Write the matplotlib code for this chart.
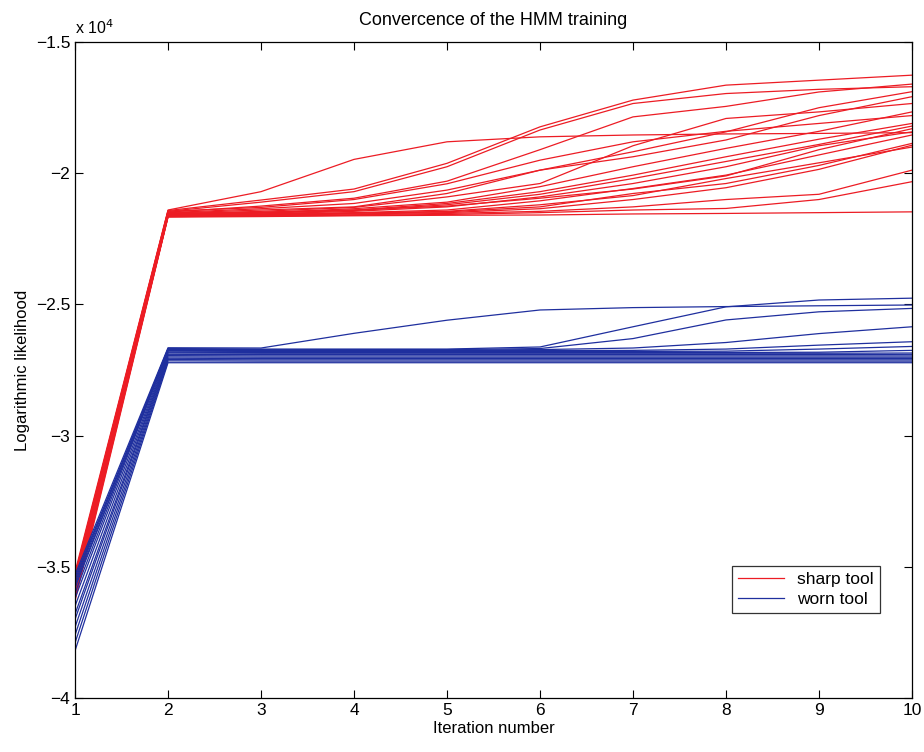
#!/usr/bin/env python3
# -*- coding: utf-8 -*-
"""HMM training convergence: log-likelihood per iteration, sharp vs worn tool."""
import matplotlib

matplotlib.use("Agg")
import matplotlib.pyplot as plt
from matplotlib.ticker import FuncFormatter

plt.rcParams.update({"font.family": ["Liberation Sans", "DejaVu Sans"], "font.size": 11})

ITER = [1, 2, 3, 4, 5, 6, 7, 8, 9, 10]

# log-likelihood curves, one row per training run
SHARP = [
    [-35200, -21400, -20700, -19470, -18800, -18610, -18540, -18500, -18480, -18450],
    [-35300, -21420, -21020, -20600, -19620, -18230, -17210, -16640, -16450, -16260],
    [-35400, -21450, -21100, -20700, -19750, -18350, -17340, -16960, -16800, -16700],
    [-35500, -21480, -21250, -20950, -20300, -19100, -17850, -17450, -16900, -16600],
    [-35500, -21500, -21350, -21150, -20640, -19880, -19180, -18420, -17500, -16890],
    [-35600, -21520, -21400, -21280, -20770, -19880, -19370, -18730, -17800, -17080],
    [-35700, -21550, -21450, -21300, -20900, -20390, -18950, -17910, -17660, -17340],
    [-35700, -21550, -21500, -21350, -21100, -20510, -19750, -19050, -18400, -17660],
    [-35800, -21580, -21500, -21400, -21150, -20700, -20070, -19370, -18700, -18100],
    [-35800, -21600, -21550, -21450, -21280, -20900, -20390, -19750, -18950, -18420],
    [-35900, -21600, -21550, -21500, -21400, -21050, -20580, -20070, -19300, -18540],
    [-36000, -21620, -21580, -21520, -21470, -21280, -20770, -20390, -19700, -18860],
    [-36000, -21620, -21600, -21550, -21500, -21350, -21000, -20550, -19850, -18930],
    [-36100, -21650, -21620, -21580, -21530, -21450, -21280, -21000, -20800, -19880],
    [-36200, -21650, -21630, -21600, -21570, -21500, -21400, -21340, -21000, -20320],
    [-36300, -21670, -21650, -21620, -21600, -21590, -21550, -21530, -21500, -21470],
    [-35300, -21450, -21300, -21000, -20400, -19500, -18800, -18400, -18100, -17800],
    [-35900, -21580, -21520, -21420, -21200, -20800, -20200, -19550, -18900, -18200],
    [-36100, -21630, -21600, -21520, -21450, -21200, -20850, -20200, -19600, -19000],
    [-35600, -21520, -21480, -21400, -21250, -20950, -20600, -20100, -19100, -18300],
]

WORN = [
    [-35300, -26650, -26660, -26100, -25600, -25210, -25120, -25080, -25050, -25020],
    [-35500, -26680, -26700, -26700, -26700, -26620, -25850, -25090, -24830, -24760],
    [-35600, -26700, -26720, -26720, -26720, -26680, -26300, -25590, -25280, -25150],
    [-35800, -26720, -26740, -26740, -26740, -26720, -26660, -26450, -26110, -25850],
    [-36000, -26750, -26760, -26760, -26760, -26760, -26750, -26700, -26550, -26420],
    [-35400, -26780, -26790, -26790, -26790, -26790, -26790, -26780, -26700, -26600],
    [-35700, -26820, -26830, -26830, -26830, -26830, -26830, -26830, -26820, -26750],
    [-36200, -26850, -26860, -26860, -26860, -26860, -26860, -26860, -26860, -26850],
    [-36500, -26900, -26910, -26910, -26910, -26910, -26910, -26910, -26910, -26900],
    [-36800, -26950, -26960, -26960, -26960, -26960, -26960, -26960, -26960, -26960],
    [-37000, -27000, -27010, -27010, -27010, -27010, -27010, -27010, -27010, -27010],
    [-37300, -27050, -27060, -27060, -27060, -27060, -27060, -27060, -27060, -27060],
    [-37600, -27100, -27110, -27110, -27110, -27110, -27110, -27110, -27110, -27110],
    [-37900, -27150, -27160, -27160, -27160, -27160, -27160, -27160, -27160, -27160],
    [-38200, -27220, -27220, -27220, -27220, -27220, -27220, -27220, -27220, -27220],
]

RED = "#ec1c24"
BLUE = "#1f2f9e"


def ylab(v, _):
    return ("%g" % (v / 1e4)).replace("-", "\u2212")


def main():
    fig = plt.figure(figsize=(9.24, 7.52), dpi=100)
    ax = fig.add_axes([0.0812, 0.0718, 0.9058, 0.8722])

    for k, row in enumerate(SHARP):
        ax.plot(ITER, row, color=RED, lw=0.9, label="sharp tool" if k == 0 else None)
    for k, row in enumerate(WORN):
        ax.plot(ITER, row, color=BLUE, lw=0.9, label="worn tool" if k == 0 else None)

    ax.set_xlim(1, 10)
    ax.set_ylim(-40000, -15000)
    ax.set_xticks(ITER)
    ax.set_yticks([-40000, -35000, -30000, -25000, -20000, -15000])
    ax.yaxis.set_major_formatter(FuncFormatter(ylab))
    ax.tick_params(direction="in", top=True, right=True, length=6, labelsize=12.5)
    for s in ax.spines.values():
        s.set_linewidth(0.9)

    ax.text(0.0, 1.008, "x 10$^4$", transform=ax.transAxes, fontsize=11.5, va="bottom")
    ax.set_title("Convercence of the HMM training", fontsize=13, pad=12)
    ax.set_xlabel("Iteration number", fontsize=12, labelpad=2)
    ax.set_ylabel("Logarithmic likelihood", fontsize=12, labelpad=4)

    leg = ax.legend(loc="lower right", bbox_to_anchor=(0.962, 0.13), borderaxespad=0,
                    fancybox=False, edgecolor="black", fontsize=12.5, handlelength=2.6,
                    borderpad=0.35, labelspacing=0.25, handletextpad=0.8)
    leg.get_frame().set_linewidth(0.9)

    fig.savefig("out.png", dpi=100)
    plt.close(fig)


if __name__ == "__main__":
    main()
